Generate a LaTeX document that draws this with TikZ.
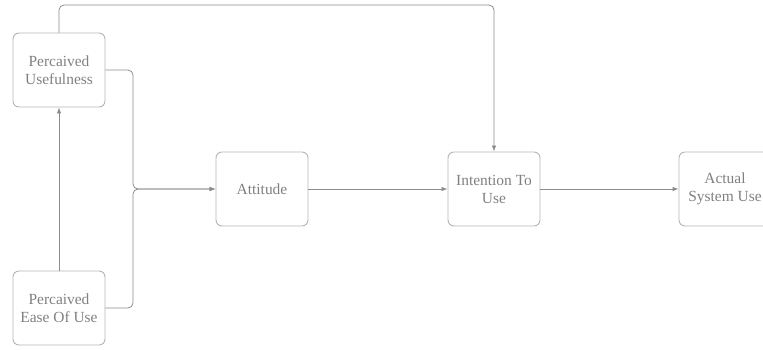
\documentclass[tikz,border=0pt]{standalone}
\usepackage{fontspec}
\setmainfont{Liberation Serif}
\usetikzlibrary{arrows.meta}
\definecolor{boxc}{HTML}{B4B4B4}
\definecolor{linec}{HTML}{8C8C8C}
\definecolor{textc}{HTML}{808080}
\begin{document}
\begin{tikzpicture}[x=1bp,y=-1bp,
  box/.style={draw=boxc,line width=0.9bp,rounded corners=6bp,minimum width=92bp,minimum height=74bp,
    align=center,text=textc,font=\fontsize{15.5}{18}\selectfont,inner sep=2bp},
  conn/.style={draw=linec,line width=0.8bp,rounded corners=5bp,-{Latex[length=6bp,width=4.5bp]}}]
\useasboundingbox (0,0) rectangle (763,349);
\node[box] (PU) at (59,70) {Percaived\\Usefulness};
\node[box] (PE) at (59,308) {Percaived\\Ease Of Use};
\node[box] (AT) at (262,189) {Attitude};
\node[box] (IT) at (494,189) {Intention To\\Use};
\node[box] (AU) at (725,189) {Actual\\System Use};
\coordinate (top) at (494,5);
\coordinate (j) at (133,189);
\draw[conn] (PU.north) |- (top) -- (IT.north);
\draw[conn] (PU.east) -| (j) -- (AT.west);
\draw[conn] (PE.east) -| (j) -- (AT.west);
\draw[conn] (PE.north) -- (PU.south);
\draw[conn] (AT.east) -- (IT.west);
\draw[conn] (IT.east) -- (AU.west);
\end{tikzpicture}
\end{document}
